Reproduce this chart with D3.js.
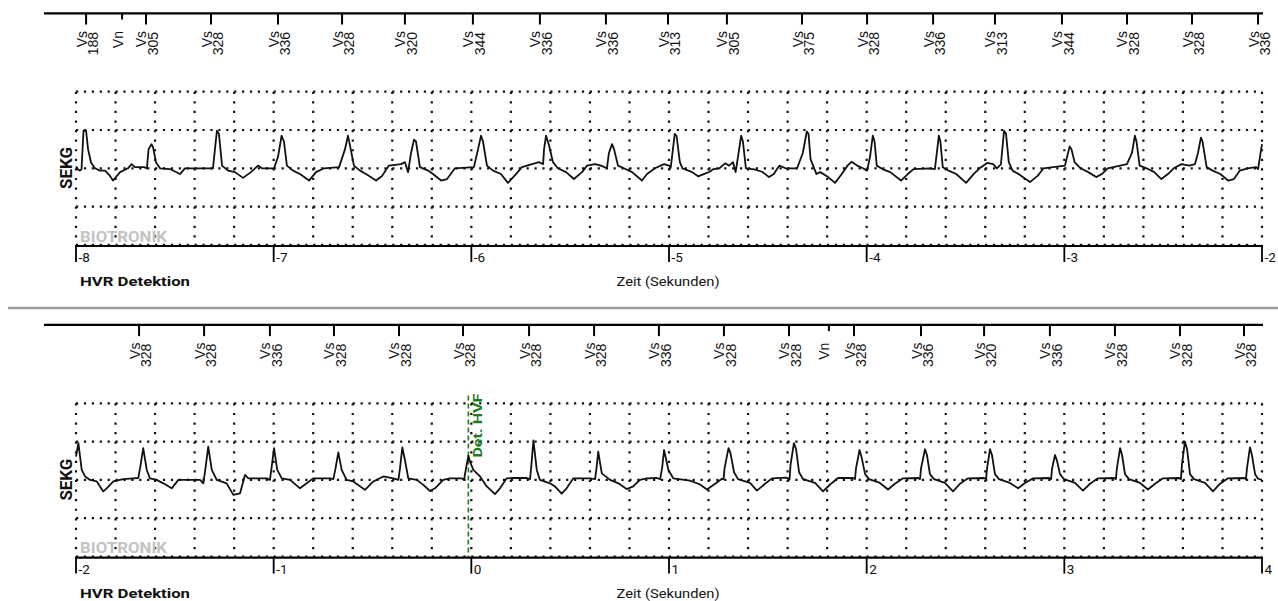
<!DOCTYPE html>
<html><head><meta charset="utf-8">
<script src="https://cdn.jsdelivr.net/npm/d3@7"></script>
<style>body{margin:0;background:#fff}svg{display:block}</style>
</head><body>
<svg id="c" width="1278" height="601"></svg>
<script>
// ---------- DATA ----------
const topTimeTicks = [-8, -7, -6, -5, -4, -3, -2];
const bottomTimeTicks = [-2, -1, 0, 1, 2, 3, 4];

const topMarkerTypes = ["Vs","Vn","Vs","Vs","Vs","Vs","Vs","Vs","Vs","Vs","Vs","Vs","Vs","Vs","Vs","Vs","Vs","Vs","Vs","Vs"];
const topMarkerValues = ["188","","305","328","336","328","320","344","336","336","313","305","375","328","336","313","344","328","328","336"];
const topMarkerTimes = [-7.949,-7.767,-7.646,-7.317,-6.978,-6.654,-6.336,-5.992,-5.653,-5.319,-5.005,-4.707,-4.327,-3.998,-3.664,-3.351,-3.012,-2.683,-2.354,-2.020];

const bottomMarkerTypes = ["Vs","Vs","Vs","Vs","Vs","Vs","Vs","Vs","Vs","Vs","Vs","Vn","Vs","Vs","Vs","Vs","Vs","Vs","Vs"];
const bottomMarkerValues = ["328","328","336","328","328","328","328","328","336","328","328","","328","336","320","336","328","328","328"];
const bottomMarkerTimes = [-1.681,-1.352,-1.019,-0.695,-0.366,-0.042,0.292,0.621,0.949,1.278,1.607,1.809,1.936,2.275,2.594,2.927,3.256,3.585,3.909];

const detectionTime = -0.015;
const detectionLabel = "Det. HVF";

const topTrace = [[-8.000,0.05],[-7.990,-0.03],[-7.980,-0.06],[-7.972,-0.02],[-7.962,0.98],[-7.949,0.98],[-7.939,0.5],[-7.924,0.15],[-7.904,0.0],[-7.879,-0.06],[-7.853,-0.06],[-7.828,-0.2],[-7.813,-0.32],[-7.777,-0.10],[-7.737,0.0],[-7.719,0.11],[-7.702,0.03],[-7.656,0.03],[-7.641,0.0],[-7.633,0.5],[-7.618,0.63],[-7.610,0.55],[-7.595,0.15],[-7.575,0.0],[-7.524,-0.02],[-7.474,-0.15],[-7.449,0.0],[-7.398,0.0],[-7.307,0.0],[-7.297,0.5],[-7.287,0.98],[-7.277,0.9],[-7.261,0.07],[-7.231,-0.06],[-7.196,-0.10],[-7.155,-0.25],[-7.115,-0.10],[-7.079,0.07],[-7.059,0.0],[-6.998,0.0],[-6.978,0.3],[-6.960,0.85],[-6.948,0.7],[-6.933,0.07],[-6.902,-0.06],[-6.867,-0.15],[-6.821,-0.32],[-6.786,-0.10],[-6.745,0.0],[-6.669,0.03],[-6.639,0.5],[-6.624,0.85],[-6.614,0.6],[-6.594,0.07],[-6.563,-0.06],[-6.533,-0.15],[-6.482,-0.32],[-6.452,-0.2],[-6.417,0.07],[-6.356,0.11],[-6.336,0.16],[-6.320,-0.10],[-6.305,0.4],[-6.290,0.75],[-6.280,0.7],[-6.260,0.03],[-6.219,-0.06],[-6.194,-0.15],[-6.153,-0.32],[-6.123,-0.28],[-6.083,0.0],[-5.987,0.03],[-5.966,0.5],[-5.951,0.85],[-5.941,0.7],[-5.921,0.07],[-5.890,-0.06],[-5.850,-0.15],[-5.815,-0.38],[-5.774,-0.15],[-5.744,0.03],[-5.658,0.16],[-5.637,0.11],[-5.632,0.5],[-5.622,0.85],[-5.607,0.6],[-5.587,0.16],[-5.562,0.0],[-5.521,-0.10],[-5.481,-0.28],[-5.440,-0.10],[-5.415,0.07],[-5.374,0.11],[-5.344,0.07],[-5.314,0.0],[-5.304,0.4],[-5.288,0.63],[-5.278,0.5],[-5.258,0.07],[-5.228,0.0],[-5.187,-0.10],[-5.137,-0.32],[-5.111,-0.15],[-5.071,0.0],[-5.025,0.11],[-5.000,0.07],
[-4.991,0.03],[-4.980,0.5],[-4.971,0.9],[-4.962,0.85],[-4.945,0.16],[-4.932,0.0],[-4.902,-0.06],[-4.883,-0.10],[-4.853,-0.21],[-4.824,-0.15],[-4.794,-0.09],[-4.775,-0.02],[-4.745,0.0],[-4.716,0.13],[-4.696,0.07],[-4.676,0.16],[-4.663,-0.10],[-4.651,0.3],[-4.635,0.85],[-4.626,0.7],[-4.611,0.0],[-4.569,-0.03],[-4.529,-0.09],[-4.494,-0.23],[-4.470,-0.15],[-4.451,0.0],[-4.441,0.07],[-4.411,0.0],[-4.352,0.0],[-4.323,0.4],[-4.303,0.96],[-4.294,0.9],[-4.284,0.24],[-4.254,-0.15],[-4.235,-0.10],[-4.195,-0.23],[-4.160,-0.38],[-4.126,-0.15],[-4.097,0.07],[-4.077,0.17],[-4.048,0.07],[-4.019,0.0],[-3.998,-0.06],[-3.983,0.3],[-3.969,0.85],[-3.960,0.7],[-3.949,0.07],[-3.920,-0.02],[-3.881,-0.10],[-3.826,-0.32],[-3.792,-0.15],[-3.763,-0.02],[-3.684,0.0],[-3.655,-0.02],[-3.645,0.4],[-3.635,0.85],[-3.627,0.7],[-3.615,0.03],[-3.586,-0.06],[-3.547,-0.15],[-3.497,-0.38],[-3.459,-0.15],[-3.429,0.0],[-3.390,0.14],[-3.360,0.11],[-3.341,0.0],[-3.321,0.1],[-3.305,0.98],[-3.295,0.9],[-3.281,0.16],[-3.262,-0.06],[-3.232,-0.15],[-3.174,-0.36],[-3.134,-0.19],[-3.105,0.0],[-3.056,0.03],[-2.997,0.07],[-2.973,0.57],[-2.964,0.5],[-2.948,0.16],[-2.918,0.0],[-2.879,-0.10],[-2.839,-0.23],[-2.810,-0.15],[-2.781,0.0],[-2.683,0.11],[-2.658,0.4],[-2.643,0.85],[-2.635,0.7],[-2.619,0.07],[-2.584,0.0],[-2.545,-0.10],[-2.509,-0.28],[-2.476,-0.15],[-2.447,0.0],[-2.407,0.11],[-2.368,0.07],[-2.339,0.11],[-2.324,0.4],[-2.309,0.8],[-2.301,0.7],[-2.280,0.03],[-2.250,-0.06],[-2.211,-0.15],[-2.172,-0.32],[-2.142,-0.28],[-2.112,-0.06],[-2.073,0.0],[-2.030,0.03],[-2.020,-0.02],[-2.000,0.63]];

const bottomTrace = [[-2.000,0.61],[-1.988,0.96],[-1.971,0.26],[-1.954,0.09],[-1.929,0.0],[-1.895,-0.04],[-1.862,-0.30],[-1.845,-0.22],[-1.811,-0.04],[-1.761,0.02],[-1.710,0.04],[-1.685,0.05],[-1.676,0.3],[-1.660,0.83],[-1.642,0.26],[-1.626,0.04],[-1.592,0.0],[-1.558,-0.09],[-1.516,-0.22],[-1.482,0.0],[-1.373,0.0],[-1.356,-0.09],[-1.345,0.3],[-1.331,0.87],[-1.313,0.26],[-1.288,0.0],[-1.238,-0.09],[-1.204,-0.39],[-1.170,-0.35],[-1.145,0.13],[-1.128,0.04],[-1.035,0.04],[-1.019,0.0],[-1.011,0.3],[-0.998,0.83],[-0.982,0.26],[-0.959,0.04],[-0.917,0.0],[-0.867,-0.22],[-0.833,-0.09],[-0.800,0.04],[-0.715,0.04],[-0.698,0.02],[-0.687,0.3],[-0.673,0.72],[-0.656,0.26],[-0.631,0.0],[-0.597,-0.04],[-0.538,-0.26],[-0.496,-0.04],[-0.445,0.09],[-0.395,0.04],[-0.369,0.0],[-0.361,0.3],[-0.349,0.85],[-0.336,0.52],[-0.319,0.04],[-0.276,0.0],[-0.243,-0.13],[-0.209,-0.29],[-0.184,-0.22],[-0.142,0.0],[-0.108,0.04],[-0.049,0.04],[-0.037,0.0],[-0.027,0.3],[-0.015,0.63],[-0.007,0.48],[0.010,0.26],[0.044,0.09],[0.078,-0.17],[0.120,-0.37],[0.145,-0.22],[0.179,0.04],[0.212,0.05],[0.280,0.05],[0.297,0.02],[0.304,0.4],[0.314,1.03],[0.331,0.26],[0.347,0.0],[0.398,-0.09],[0.423,-0.17],[0.457,-0.36],[0.482,-0.22],[0.516,0.04],[0.600,0.04],[0.626,0.02],[0.633,0.3],[0.642,0.74],[0.660,0.17],[0.702,0.0],[0.744,-0.09],[0.786,-0.24],[0.819,-0.17],[0.853,0.0],[0.887,0.04],[0.938,0.05],[0.955,0.02],[0.965,0.3],[0.975,0.78],[0.997,0.26],[1.022,0.04],[1.106,-0.02],[1.157,-0.12],[1.192,-0.25],[1.228,-0.12],[1.268,0.03],[1.276,0.02],[1.281,0.3],[1.301,0.83],[1.311,0.7],[1.329,0.2],[1.349,0.02],[1.410,-0.08],[1.445,-0.28],[1.486,-0.10],[1.521,0.04],[1.592,0.06],[1.610,0.02],[1.615,0.4],[1.632,0.96],[1.643,0.8],[1.658,0.2],[1.678,0.02],[1.739,-0.08],[1.779,-0.3],[1.815,-0.12],[1.855,0.05],[1.931,0.05],[1.941,0.02],[1.946,0.3],[1.964,0.78],[1.974,0.6],[1.992,0.15],[2.012,0.02],[2.067,-0.08],[2.108,-0.25],[2.143,-0.1],[2.184,0.04],[2.260,0.05],[2.270,0.02],[2.275,0.3],[2.295,0.8],[2.305,0.65],[2.320,0.15],[2.341,0.02],[2.396,-0.08],[2.437,-0.3],[2.472,-0.1],[2.513,0.04],[2.594,0.05],[2.604,0.02],[2.609,0.3],[2.624,0.8],[2.634,0.65],[2.649,0.15],[2.669,0.02],[2.725,-0.08],[2.766,-0.22],[2.801,-0.08],[2.842,0.04],[2.922,0.05],[2.933,0.02],[2.938,0.3],[2.953,0.65],[2.963,0.5],[2.978,0.15],[2.998,0.02],[3.054,-0.08],[3.094,-0.28],[3.130,-0.1],[3.170,0.04],[3.251,0.05],[3.261,0.02],[3.266,0.3],[3.282,0.83],[3.292,0.65],[3.307,0.15],[3.327,0.02],[3.383,-0.08],[3.423,-0.25],[3.459,-0.1],[3.499,0.04],[3.580,0.05],[3.590,0.02],[3.595,0.4],[3.610,1.0],[3.621,0.8],[3.636,0.15],[3.656,0.02],[3.712,-0.08],[3.752,-0.3],[3.788,-0.1],[3.828,0.04],[3.909,0.05],[3.919,0.02],[3.924,0.3],[3.939,0.85],[3.949,0.65],[3.965,0.15],[3.980,0.03],[4.000,0.0]];

const yGridValues = [-2, -1, 0, 1, 2];
const channelLabel = "SEKG";
const brandLabel = "BIOTRONIK";
const leftTitle = "HVR Detektion";
const xTitle = "Zeit (Sekunden)";

// ---------- DRAW ----------
const svg = d3.select("#c");
const DIN = "Roboto, 'DejaVu Sans', sans-serif";
const ARIAL = "'Liberation Sans', Arial, sans-serif";

function panel(y0, t0, ticks, mTypes, mValues, mTimes, trace, detection) {
  const g = svg.append("g").attr("transform", `translate(0,${y0})`);
  const x = d3.scaleLinear().domain([t0, t0 + 6]).range([76, 1262]);
  const y = d3.scaleLinear().domain([-2, 2]).range([244.9, 91.7]);

  // marker axis
  g.append("line").attr("x1", 44).attr("x2", 1263).attr("y1", 13.3).attr("y2", 13.3)
    .attr("stroke", "#000").attr("stroke-width", 2.2);
  const m = g.append("g");
  mTimes.forEach((t, i) => {
    const xi = x(t);
    m.append("line").attr("x1", xi).attr("x2", xi).attr("y1", 13).attr("y2", mTypes[i] === "Vn" ? 19.5 : 24.5)
      .attr("stroke", "#000").attr("stroke-width", 2);
    m.append("text").attr("transform", `translate(${xi + 0.5},31) rotate(-90)`)
      .attr("text-anchor", "end").attr("font-family", ARIAL)
      .attr("font-size", 14).attr("fill", "#111").text(mTypes[i]);
    if (mValues[i]) {
      m.append("text").attr("transform", `translate(${xi + 11.8},32) rotate(-90)`)
        .attr("text-anchor", "end").attr("font-family", ARIAL)
        .attr("font-size", 14).attr("fill", "#111").text(mValues[i]);
    }
  });

  // grid
  const gridT = d3.range(0, 31).map(k => t0 + k * 0.2);
  const grid = g.append("g");
  grid.selectAll("line.v").data(gridT).join("line").attr("class", "v")
    .attr("x1", d => x(d)).attr("x2", d => x(d)).attr("y1", y(2)).attr("y2", y(-2))
    .attr("stroke", "#111").attr("stroke-width", 2.2).attr("stroke-dasharray", "2.2 7.375");
  grid.selectAll("line.h").data(yGridValues).join("line").attr("class", "h")
    .attr("x1", x(t0)).attr("x2", x(t0 + 6)).attr("y1", d => y(d)).attr("y2", d => y(d))
    .attr("stroke", "#111").attr("stroke-width", 2.2).attr("stroke-dasharray", "2.2 5.705");

  // brand
  g.append("text").attr("x", 80).attr("y", 241.5).attr("font-family", DIN).attr("font-weight", "bold")
    .attr("font-size", 14.5).attr("fill", "#c3c3c3").attr("textLength", 87).attr("lengthAdjust", "spacingAndGlyphs")
    .text(brandLabel);

  // detection line
  if (detection !== null) {
    const xd = x(detection);
    g.append("line").attr("x1", xd).attr("x2", xd).attr("y1", 84).attr("y2", 246)
      .attr("stroke", "#1e7d1e").attr("stroke-width", 1.6).attr("stroke-dasharray", "5 3");
    g.append("text").attr("transform", `translate(${xd + 13.5},${146}) rotate(-90)`)
      .attr("font-family", DIN).attr("font-weight", "bold").attr("font-size", 13)
      .attr("fill", "#1e7d1e").attr("textLength", 64).attr("lengthAdjust", "spacingAndGlyphs")
      .text(detectionLabel);
  }

  // trace
  const line = d3.line().x(d => x(d[0])).y(d => y(d[1]));
  g.append("path").datum(trace).attr("d", line).attr("fill", "none")
    .attr("stroke", "#111").attr("stroke-width", 1.8).attr("stroke-linejoin", "round");

  // channel label
  g.append("text").attr("transform", `translate(72,168) rotate(-90)`).attr("text-anchor", "middle")
    .attr("font-family", DIN).attr("font-weight", "bold").attr("font-size", 16).attr("fill", "#111")
    .attr("textLength", 42).attr("lengthAdjust", "spacingAndGlyphs").text(channelLabel);

  // time axis
  g.append("line").attr("x1", x(t0) - 1).attr("x2", x(t0 + 6) + 1).attr("y1", 246).attr("y2", 246)
    .attr("stroke", "#000").attr("stroke-width", 2.2);
  const ax = g.append("g");
  ticks.forEach(t => {
    ax.append("line").attr("x1", x(t)).attr("x2", x(t)).attr("y1", 246).attr("y2", 262)
      .attr("stroke", "#000").attr("stroke-width", 1.8);
    ax.append("text").attr("x", x(t) + 2.5).attr("y", 262).attr("font-family", DIN)
      .attr("font-size", 13.5).attr("fill", "#111").text(String(t));
  });

  g.append("text").attr("x", 80).attr("y", 286).attr("font-family", DIN).attr("font-weight", "bold")
    .attr("font-size", 13.5).attr("fill", "#111").attr("textLength", 110).attr("lengthAdjust", "spacingAndGlyphs")
    .text(leftTitle);
  g.append("text").attr("x", 668).attr("y", 286).attr("text-anchor", "middle").attr("font-family", DIN)
    .attr("font-size", 12).attr("fill", "#111").attr("textLength", 103).attr("lengthAdjust", "spacingAndGlyphs")
    .text(xTitle);
}

panel(0, -8, topTimeTicks, topMarkerTypes, topMarkerValues, topMarkerTimes, topTrace, null);
svg.append("line").attr("x1", 8).attr("x2", 1278).attr("y1", 308).attr("y2", 308)
  .attr("stroke", "#9b9b9b").attr("stroke-width", 2.5);
panel(311.6, -2, bottomTimeTicks, bottomMarkerTypes, bottomMarkerValues, bottomMarkerTimes, bottomTrace, detectionTime);
</script>
</body></html>
